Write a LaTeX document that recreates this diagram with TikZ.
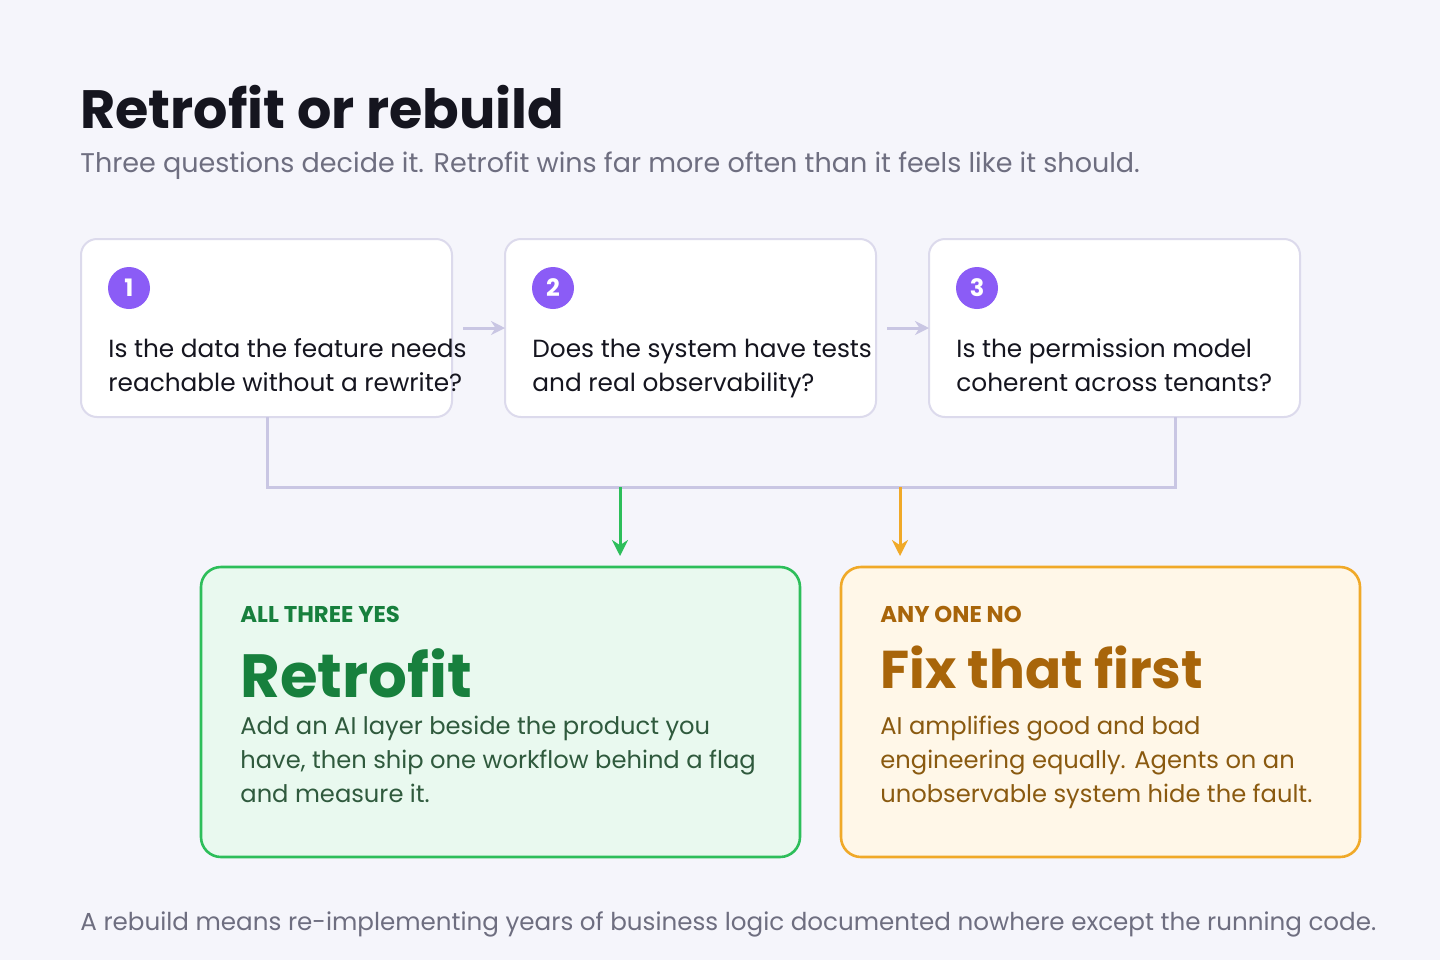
\documentclass[tikz,border=0pt]{standalone}
\usepackage{fontspec}
\setmainfont{Poppins}
\usetikzlibrary{arrows.meta,calc}
\definecolor{bg}{HTML}{F5F5FB}
\definecolor{ink}{HTML}{15151F}
\definecolor{muted}{HTML}{6E6E80}
\definecolor{edge}{HTML}{DCDAEC}
\definecolor{wire}{HTML}{C9C6E3}
\definecolor{badge}{HTML}{8B5CF6}
\definecolor{gfill}{HTML}{E9F9EF}
\definecolor{gline}{HTML}{2DBE5A}
\definecolor{gdark}{HTML}{17803D}
\definecolor{gtext}{HTML}{2F5A3D}
\definecolor{ofill}{HTML}{FFF7E8}
\definecolor{oline}{HTML}{F0A928}
\definecolor{odark}{HTML}{A8650A}
\definecolor{otext}{HTML}{8A5A10}
\tikzset{
 qbox/.style={draw=edge,line width=1pt,fill=white,rounded corners=8pt},
 num/.style={circle,fill=badge,text=white,minimum size=21pt,inner sep=0pt,font=\bfseries\fontsize{12}{12}\selectfont},
 txt/.style={anchor=base west,inner sep=0pt},
 q/.style={txt,font=\fontsize{12.4}{17}\selectfont,text=ink},
 body/.style={anchor=north west,inner sep=0pt,font=\fontsize{12.1}{17}\selectfont,align=left},
 link/.style={wire,line width=1.5pt,-{Stealth[length=7pt,width=7pt]}},
}
\begin{document}
\begin{tikzpicture}[x=0.5pt,y=-0.5pt]
\fill[bg] (0,0) rectangle (1440,960);
\useasboundingbox (0,0) rectangle (1440,960);
% heading
\node[txt,font=\bfseries\fontsize{27}{27}\selectfont,text=ink] (title) at (80,128) {Retrofit or rebuild};
\node[txt,font=\fontsize{13.5}{14}\selectfont,text=muted] (sub) at (80,172) {Three questions decide it. Retrofit wins far more often than it feels like it should.};
% questions
\foreach \i/\x/\la/\lb in {1/81/Is the data the feature needs/reachable without a rewrite?,
  2/505/Does the system have tests/and real observability?,
  3/929/Is the permission model/coherent across tenants?}{
 \draw[qbox] (\x,239) rectangle ++(371,178);
 \coordinate (q\i w) at (\x,328);
 \coordinate (q\i e) at (\x+371,328);
 \node[num] (n\i) at (\x+48,288) {\i};
 \node[q] (t\i) at (\x+27,357) {\la};
 \node[q] (u\i) at (\x+27,391) {\lb};
}
\draw[link] ($(q1e)+(11,0)$) -- (q2w);
\draw[link] ($(q2e)+(11,0)$) -- (q3w);
% merge line
\coordinate (m1) at (267,417);
\coordinate (m3) at (1175,417);
\draw[wire,line width=1.5pt] (m1) |- (700,487) -| (m3);
\coordinate (gs) at (620,487);
\coordinate (os) at (900,487);
\coordinate (gt) at (620,556);
\coordinate (ot) at (900,556);
\draw[gline,line width=1.5pt,-{Stealth[length=8pt,width=8pt]}] (gs) -- (gt);
\draw[oline,line width=1.5pt,-{Stealth[length=8pt,width=8pt]}] (os) -- (ot);
% outcomes
\draw[draw=gline,fill=gfill,line width=1.3pt,rounded corners=10pt] (201,567) rectangle (800,857);
\node[txt,font=\bfseries\fontsize{11.4}{11}\selectfont,text=gdark] (glab) at (240,622) {ALL THREE YES};
\node[txt,font=\bfseries\fontsize{30.5}{31}\selectfont,text=gdark] (ghead) at (240,697) {Retrofit};
\node[body,text=gtext] (gbody) at (240,716) {Add an AI layer beside the product you\\have, then ship one workflow behind a flag\\and measure it.};
\draw[draw=oline,fill=ofill,line width=1.3pt,rounded corners=10pt] (841,567) rectangle (1360,857);
\node[txt,font=\bfseries\fontsize{11.4}{11}\selectfont,text=odark] (olab) at (880,622) {ANY ONE NO};
\node[txt,font=\bfseries\fontsize{26.6}{27}\selectfont,text=odark] (ohead) at (880,688) {Fix that first};
\node[body,text=otext] (obody) at (880,716) {AI amplifies good and bad\\engineering equally. Agents on an\\unobservable system hide the fault.};
% footer
\node[txt,font=\fontsize{12.3}{13}\selectfont,text=muted] (foot) at (80,930) {A rebuild means re-implementing years of business logic documented nowhere except the running code.};
\end{tikzpicture}
\end{document}
